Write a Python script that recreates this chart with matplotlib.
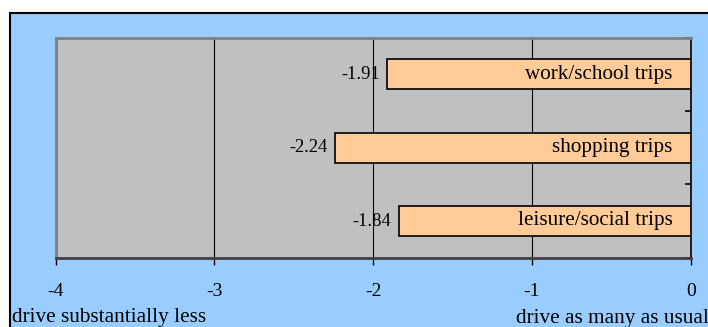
import matplotlib
matplotlib.use("Agg")
import matplotlib.pyplot as plt
from matplotlib.patches import Rectangle
from matplotlib.ticker import FixedLocator

# mean change in driving, by trip purpose
trips = ['work/school trips', 'shopping trips', 'leisure/social trips']
scores = [-1.91, -2.24, -1.84]
xticks = [-4, -3, -2, -1, 0]

W, H = 708, 327
plt.rcParams['font.family'] = ['Liberation Serif', 'DejaVu Serif']

fig = plt.figure(figsize=(W / 100, H / 100), dpi=100)
fig.patch.set_facecolor('white')

# chart area: light blue with a black frame
fig.patches.append(Rectangle((10 / W, -0.1), 1.1, 1 - 13 / H + 0.1,
                             transform=fig.transFigure, facecolor='#99CCFF',
                             edgecolor='black', linewidth=1.5, zorder=-1))

left, right, top, bottom = 55.5, 690.7, 37.5, 257.7
ax = fig.add_axes([left / W, 1 - bottom / H, (right - left) / W, (bottom - top) / H],
                  zorder=2)
ax.set_facecolor('#C0C0C0')

ypos = list(range(len(trips)))
ax.barh(ypos, scores, height=0.41, color='#FFCC99', edgecolor='black',
        linewidth=1.2, zorder=3)

for y, v, name in zip(ypos, scores, trips):
    ax.annotate(f'{v:.2f}', (v, y), xytext=(-5, 0), textcoords='offset points',
                ha='right', va='center', fontsize=13.3, color='black', zorder=4)
    ax.annotate(name, (0, y), xytext=(-13, 0), textcoords='offset points',
                ha='right', va='center', fontsize=15.2, color='black', zorder=4)

ax.set_xlim(-4, 0)
ax.set_ylim(len(trips) - 0.5, -0.5)
ax.set_xticks(xticks)
ax.set_xticklabels([str(t) for t in xticks], fontsize=14)
ax.grid(axis='x', color='black', linewidth=0.8, zorder=1)
ax.set_axisbelow(True)
ax.tick_params(axis='x', direction='out', length=5, width=1, pad=13, colors='black')

# category axis sits at x = 0 on the right, ticks between categories
ax.yaxis.tick_right()
ax.set_yticks([])
ax.yaxis.set_minor_locator(FixedLocator([-0.5, 0.5, 1.5, 2.5]))
ax.tick_params(axis='y', which='minor', direction='in', length=4, width=1.2,
               colors='black')

for s in ['top', 'left']:
    ax.spines[s].set_color('#808080')
    ax.spines[s].set_linewidth(2)
ax.spines['right'].set_color('black')
ax.spines['right'].set_linewidth(1.2)
ax.spines['bottom'].set_color('#404040')
ax.spines['bottom'].set_linewidth(2)

fig.text(12.5 / W, 1 - 322 / H, 'drive substantially less', fontsize=15.3,
         ha='left', va='baseline')
fig.text(516 / W, 1 - 323 / H, 'drive as many as usual', fontsize=15.3,
         ha='left', va='baseline')

fig.savefig('out.png', dpi=100, facecolor=fig.get_facecolor())
